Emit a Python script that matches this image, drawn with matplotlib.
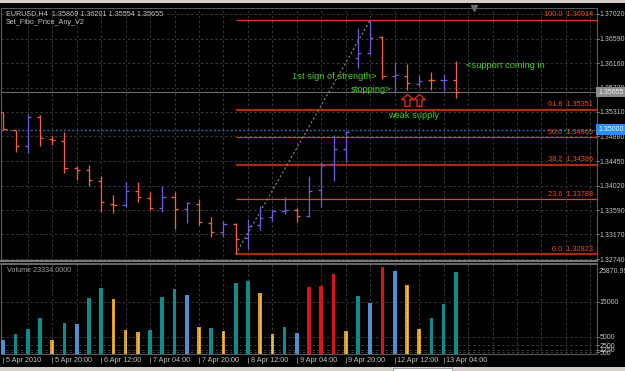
import matplotlib
matplotlib.use("Agg")
import matplotlib.pyplot as plt
from matplotlib.path import Path
from matplotlib.patches import Rectangle

plt.rcParams['font.family'] = ['Liberation Sans', 'DejaVu Sans']

# EURUSD H4 bars, 5 Apr 2010 04:00 .. 13 Apr 2010 04:00
opens = [1.35302, 1.35000, 1.34719, 1.35226, 1.34841, 1.34806, 1.34335, 1.34290, 1.34103, 1.33701,
         1.33679, 1.33928, 1.33811, 1.33626, 1.33829, 1.33609, 1.33706, 1.33375, 1.33212, 1.33352,
         1.33102, 1.33334, 1.33469, 1.33584, 1.33596, 1.33492, 1.33946, 1.34394, 1.34667, 1.36256,
         1.36333, 1.36622, 1.35936, 1.35941, 1.35797, 1.35866, 1.35860, 1.35869]
highs = [1.35302, 1.35000, 1.35273, 1.35250, 1.34889, 1.34958, 1.34370, 1.34382, 1.34190, 1.33858,
         1.34091, 1.34080, 1.33916, 1.34021, 1.33906, 1.33736, 1.33783, 1.33469, 1.33410, 1.33364,
         1.33439, 1.33666, 1.33609, 1.33818, 1.33626, 1.34190, 1.34440, 1.34906, 1.34981, 1.36769,
         1.36914, 1.36640, 1.36175, 1.36140, 1.35954, 1.36001, 1.35966, 1.36201]
lows = [1.34993, 1.34614, 1.34597, 1.34714, 1.34726, 1.34237, 1.34120, 1.34015, 1.33567, 1.33539,
        1.33654, 1.33731, 1.33596, 1.33567, 1.33259, 1.33364, 1.33329, 1.33120, 1.33130, 1.32823,
        1.32915, 1.33247, 1.33410, 1.33527, 1.33392, 1.33479, 1.33644, 1.34108, 1.34440, 1.36071,
        1.36325, 1.35879, 1.35662, 1.35692, 1.35749, 1.35692, 1.35674, 1.35554]
closes = [1.35006, 1.34719, 1.35226, 1.34859, 1.34819, 1.34335, 1.34295, 1.34120, 1.33736, 1.33679,
          1.33928, 1.33829, 1.33626, 1.33829, 1.33609, 1.33713, 1.33387, 1.33212, 1.33352, 1.33085,
          1.33317, 1.33451, 1.33579, 1.33596, 1.33492, 1.33933, 1.34382, 1.34667, 1.34964, 1.36333,
          1.36605, 1.35936, 1.35950, 1.35819, 1.35854, 1.35860, 1.35869, 1.35655]
volumes = [3940, 5660, 7090, 10430, 4140, 8890, 8510, 15940, 18800, 15660,
           7000, 6310, 7000, 16230, 18510, 16800, 7660, 7570, 6510, 20310,
           20800, 17570, 5660, 7660, 5940, 19090, 19460, 23000, 6600, 16600,
           14600, 24800, 23660, 19660, 7170, 10230, 14430, 23334]
# VSA volume colouring: b = blue, t = teal, o = orange, r = red
vol_kind = ['b', 't', 't', 't', 'o', 't', 'b', 't', 't', 'o',
            'o', 'o', 't', 't', 't', 'b', 'o', 't', 'o', 't',
            't', 'o', 'o', 't', 'b', 'r', 'r', 'r', 'o', 't',
            'b', 'r', 'b', 'o', 'o', 't', 't', 't']

time_labels = ["5 Apr 2010", "5 Apr 20:00", "6 Apr 12:00", "7 Apr 04:00", "7 Apr 20:00",
               "8 Apr 12:00", "9 Apr 04:00", "9 Apr 20:00", "12 Apr 12:00", "13 Apr 04:00"]
time_label_bars = [0, 4, 8, 12, 16, 20, 24, 28, 32, 36]

price_ticks = [1.32740, 1.33170, 1.33590, 1.34020, 1.34450, 1.34880,
               1.35310, 1.35730, 1.36160, 1.36590, 1.37020]
vol_ticks = [500, 1250, 2500, 5000, 15000]
vol_max = 25870.99

fibo_levels = [0.0, 23.6, 38.2, 50.0, 61.8, 100.0]
fibo_prices = [1.32823, 1.33788, 1.34386, 1.34869, 1.35351, 1.36914]
fibo_start = 19
fibo_end = 30
alert_price = 1.35000

notes = ["1st sign of strength>", "stopping>", "weak supply", "<support coming in"]
note_bars = [30.5, 31.7, 33.5, 37.8]
note_prices = [1.35936, 1.35692, 1.35240, 1.36116]
arrow_bars = [33, 34]
arrow_price = 1.35520

# ---- layout (pixel based, 625x371) ----
W, H = 625, 371
fig = plt.figure(figsize=(W / 100, H / 100), dpi=100, facecolor='black')


def box(l, t, r, b):
    return [l / W, 1 - b / H, (r - l) / W, (b - t) / H]


ax = fig.add_axes(box(1, 8, 597, 261))
axv = fig.add_axes(box(1, 263.5, 597, 354), sharex=ax)
x_left, x_right = -0.19, 48.54

txt_col = '#c4c4c4'
grid_col = '#3a3a3a'
up_col, dn_col = '#6c5cdc', '#f2603a'
small = 5.0

for a in (ax, axv):
    a.set_facecolor('black')
    for s in a.spines.values():
        s.set_color('#5a5a5a')
        s.set_linewidth(0.8)
    a.set_xticks(range(2, 49, 2))
    a.tick_params(axis='x', length=0, labelbottom=False)
    a.yaxis.tick_right()
    a.tick_params(axis='y', colors=txt_col, labelsize=small, length=1.3, pad=0.3, width=0.6)
    a.grid(True, color=grid_col, linestyle=(0, (2.5, 2.5)), linewidth=0.7)
    a.set_axisbelow(True)
ax.spines['bottom'].set_color('#7a7a7a')
ax.spines['bottom'].set_linewidth(1.5)
axv.spines['top'].set_color('#7a7a7a')
axv.spines['top'].set_linewidth(1.2)

ax.set_xlim(x_left, x_right)
ax.set_ylim(1.327058, 1.371235)
ax.set_yticks(price_ticks)
ax.set_yticklabels([f"{p:.5f}" for p in price_ticks])

# ---- price bars ----
xs = list(range(len(opens)))
cols = [up_col if c > o else dn_col for o, c in zip(opens, closes)]
ax.vlines(xs, lows, highs, colors=cols, linewidth=0.95, zorder=4)
ax.hlines(opens, [x - 0.26 for x in xs], xs, colors=cols, linewidth=0.95, zorder=4)
ax.hlines(closes, xs, [x + 0.26 for x in xs], colors=cols, linewidth=0.95, zorder=4)

# current price and alert line
ax.axhline(closes[-1], color='#6a6a6a', linewidth=0.8, zorder=2)
ax.axhline(alert_price, color='#1f6ea8', linewidth=1.0, linestyle=(0, (1.5, 1.5)), zorder=2)

# ---- fibo ----
fibo_cols = ['#a82a10', '#d4501c', '#a82a10', '#cc4a18', '#b02c10', '#e8340e']
fibo_lw = [1.6, 0.9, 1.6, 0.8, 1.6, 1.0]
for lvl, p, c, lw in zip(fibo_levels, fibo_prices, fibo_cols, fibo_lw):
    ax.hlines(p, fibo_start, x_right, colors=c, linewidth=lw, zorder=3)
    ax.annotate(f"{lvl:.1f}  {p:.5f}", xy=(0.9935, p), xycoords=('axes fraction', 'data'),
                xytext=(0, 3.6), textcoords='offset points', ha='right', va='center',
                color='#ff4a14', fontsize=5.3, zorder=5)
ax.plot([fibo_start, fibo_end], [fibo_prices[0], fibo_prices[-1]], color='#8a8a8a',
        linewidth=0.8, linestyle=(0, (2, 2)), zorder=3)

# ---- notes ----
green = '#48d020'
aligns = ['right', 'right', 'center', 'left']
for t, b, p, ha in zip(notes, note_bars, note_prices, aligns):
    ax.text(b, p, t, color=green, fontsize=6.7, ha=ha, va='center', zorder=6)

arrow = Path([(0, 1), (1, 0.15), (0.42, 0.15), (0.42, -1), (-0.42, -1), (-0.42, 0.15),
              (-1, 0.15), (0, 1)], closed=True)
ax.plot(arrow_bars, [arrow_price] * len(arrow_bars), linestyle='none', marker=arrow,
        markersize=8.5, markerfacecolor='none', markeredgecolor='#e02810', markeredgewidth=1.0,
        zorder=6)

# axis price boxes
ax.text(1.002, closes[-1], f"{closes[-1]:.5f}", transform=ax.get_yaxis_transform(),
        fontsize=small, color='#f0f0f0', va='center', ha='left', clip_on=False, zorder=10,
        bbox=dict(boxstyle='square,pad=0.25', facecolor='#8c8c8c', edgecolor='none'))
ax.text(1.002, alert_price, f"{alert_price:.5f}", transform=ax.get_yaxis_transform(),
        fontsize=small, color='#f4f4f4', va='center', ha='left', clip_on=False, zorder=10,
        bbox=dict(boxstyle='square,pad=0.25', facecolor='#2a8ef0', edgecolor='none'))

# chart shift marker
ax.plot([38.5], [1.0], marker='v', markersize=4, color='#6a6a6a',
        transform=ax.get_xaxis_transform(), clip_on=False, zorder=10)

# ---- volume ----
vcol = {'b': '#4f8ed0', 't': '#0c8c8c', 'o': '#d89a1c', 'r': '#d81414'}
axv.bar(xs, volumes, width=0.3, color=[vcol[k] for k in vol_kind], zorder=3)
dot_x = [x for x, k in zip(xs, vol_kind) if k == 'o']
dot_v = [v for v, k in zip(volumes, vol_kind) if k == 'o']
axv.vlines(dot_x, 0, dot_v, colors='#fff4e0', linewidth=0.75, linestyles=(0, (0.7, 1.2)), zorder=4)
axv.set_ylim(0, vol_max)
axv.set_yticks(vol_ticks)
axv.set_yticklabels([str(v) for v in vol_ticks])
axv.text(1.002, 0.95, f"{vol_max:.2f}", transform=axv.transAxes, fontsize=small,
         color=txt_col, va='top', ha='left', clip_on=False)

# time axis
for b, lbl in zip(time_label_bars, time_labels):
    axv.vlines(b, -0.03, -0.10, colors='#9a9a9a', linewidth=0.6,
               transform=axv.get_xaxis_transform(), clip_on=False)
    axv.text(b + 0.22, -0.075, lbl, transform=axv.get_xaxis_transform(), fontsize=5.2,
             color=txt_col, ha='left', va='center', clip_on=False)

# headers
fig.text(6 / W, 1 - 14 / H, f"EURUSD,H4  {opens[-1]:.5f} {highs[-1]:.5f} {lows[-1]:.5f} {closes[-1]:.5f}",
         fontsize=5.2, color=txt_col, va='center')
fig.text(6 / W, 1 - 22.5 / H, "Set_Fibo_Price_Any_V2", fontsize=5.2, color=txt_col, va='center')
fig.text(7 / W, 1 - 270.5 / H, f"Volume {volumes[-1]:.4f}", fontsize=5.2, color='#a0a0a0',
         va='center')

# window frame strips
fig.patches.append(Rectangle((0, 1 - 2.5 / H), 1, 2.5 / H, transform=fig.transFigure,
                             facecolor='#d4d0c8', edgecolor='none'))
fig.patches.append(Rectangle((0, 0), 1, 4.5 / H, transform=fig.transFigure,
                             facecolor='#d4d0c8', edgecolor='none'))
fig.patches.append(Rectangle((393 / W, 0), 59 / W, 3.5 / H, transform=fig.transFigure,
                             facecolor='white', edgecolor='#808080', linewidth=0.5))

fig.savefig('out.png', dpi=100, facecolor='black')
